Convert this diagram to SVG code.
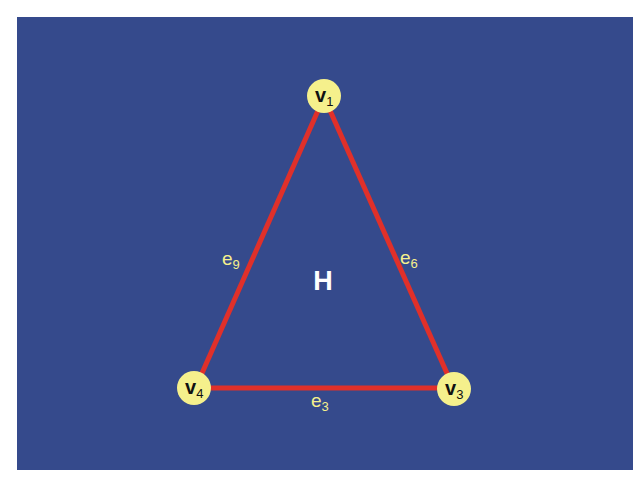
<svg xmlns="http://www.w3.org/2000/svg" width="640" height="480" viewBox="0 0 640 480">
<style>
.node{fill:#f5f08c;}
.vl{font-family:"Liberation Sans",Arial,sans-serif;font-size:20px;font-weight:bold;fill:#111;}
.sub{font-size:13px;font-weight:normal;}
.el{font-family:"Liberation Sans",Arial,sans-serif;font-size:19px;fill:#f5f08c;}
.edge{stroke:#e0302a;stroke-width:5;fill:none;}
</style>
<rect x="0" y="0" width="640" height="480" fill="#ffffff"/>
<rect x="17" y="17" width="616" height="453" fill="#354a8c"/>
<g id="connectors">
<line class="edge" x1="324" y1="97" x2="195" y2="389"/>
<line class="edge" x1="324" y1="97" x2="454" y2="389"/>
<line class="edge" x1="195" y1="388" x2="454" y2="388"/>
<text class="el" x="222" y="265">e<tspan class="sub" dy="4">9</tspan></text>
<text class="el" x="400" y="264">e<tspan class="sub" dy="4">6</tspan></text>
<text class="el" x="311" y="407">e<tspan class="sub" dy="4">3</tspan></text>
</g>
<g id="v1">
<circle class="node" cx="324" cy="96" r="17"/>
<text class="vl" x="315" y="102">v<tspan class="sub" dy="4">1</tspan></text>
</g>
<g id="v4">
<circle class="node" cx="194" cy="388" r="17"/>
<text class="vl" x="185" y="394">v<tspan class="sub" dy="4">4</tspan></text>
</g>
<g id="v3">
<circle class="node" cx="454" cy="389" r="17"/>
<text class="vl" x="445" y="395">v<tspan class="sub" dy="4">3</tspan></text>
</g>
<g id="H">
<text x="323" y="290" text-anchor="middle" font-family="Liberation Sans,Arial,sans-serif" font-size="27" font-weight="bold" fill="#ffffff">H</text>
</g>
</svg>
